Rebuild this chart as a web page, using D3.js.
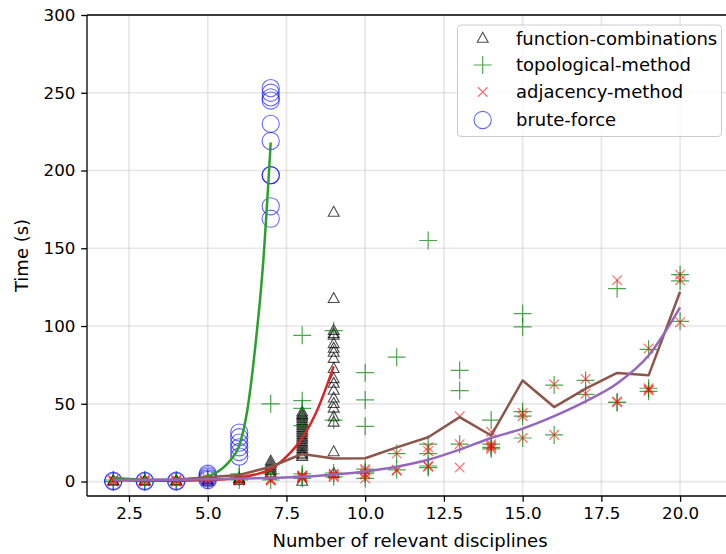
<!DOCTYPE html>
<html>
<head>
<meta charset="utf-8">
<script src="https://cdn.jsdelivr.net/npm/d3@7"></script>
<style>
  html, body { margin: 0; padding: 0; background: #ffffff; }
  svg { display: block; font-family: "DejaVu Sans", sans-serif; }
</style>
</head>
<body>
<svg id="chart" width="726" height="554"></svg>
<script>
// ---------------- data ----------------
const xTicks = [2.5, 5.0, 7.5, 10.0, 12.5, 15.0, 17.5, 20.0];
const yTicks = [0, 50, 100, 150, 200, 250, 300];
const seriesNames = ["function-combinations", "topological-method", "adjacency-method", "brute-force"];

// function-combinations (triangles): time values per number of disciplines
const funcCombX = [2, 3, 4, 5, 6, 7, 8, 9];
const funcCombY = [
  [0, 0.5], [0, 0.5], [0, 0.5], [0, 1], [0.5, 1.5, 2], [4, 5.5, 7, 8.5, 10, 11.5, 13],
  [44.5, 43, 42, 40.5, 39, 37.5, 36, 34.5, 33, 31.5, 30, 28.5, 27, 25.5, 24, 22.5, 21, 19.5, 18, 17, 16, 0],
  [173, 117.5, 97, 95, 94, 88.5, 85.5, 83, 79, 72.5, 66, 63, 58.5, 53.5, 50, 47, 41.5, 38, 19, 5]
];

// topological-method (plus)
const topoX = [2, 3, 4, 5, 6, 7, 8, 9, 10, 11, 12, 13, 14, 15, 16, 17, 18, 19, 20];
const topoY = [
  [0, 1], [0, 1], [0, 1], [1, 2], [1, 5, 3], [50, 5, 1],
  [94, 52, 47, 36, 5, 2, 3.5], [97, 39.5, 5.5, 3], [70, 52.5, 35.5, 8, 6, 5, 2],
  [80, 18, 7.5], [155, 24, 18, 10, 9], [71.5, 58.5, 24], [39.5, 24, 22, 21],
  [108, 99.5, 45, 42, 28], [62, 30], [65, 56], [124, 51, 51], [85, 60, 58], [133, 129, 103]
];

// adjacency-method (x)
const adjX = [2, 3, 4, 5, 6, 7, 8, 9, 10, 11, 12, 13, 14, 15, 16, 17, 18, 19, 20];
const adjY = [
  [0, 0.5, 1], [0, 0.5, 1], [0, 0.5, 1], [0, 1, 2], [0.5, 1, 1.5], [0.5, 1, 1.5],
  [2, 2.5, 3, 3.5, 4], [3, 3.5, 4.5, 5], [8, 7, 5, 4.5, 2], [18, 7.5, 7], [22, 19.5, 10, 9.5],
  [42, 24, 9], [32, 24, 23, 22, 21], [44, 42, 28], [62.5, 30], [66, 56.5], [129.5, 51, 51.5],
  [85.5, 60, 59, 58.5], [133, 129.5, 102.5]
];

// brute-force (circles)
const bruteX = [2, 3, 4, 5, 6, 7];
const bruteY = [
  [0, 0.5], [0, 0.5], [0, 0.5], [1, 2, 3, 4, 5],
  [31.5, 28.5, 25, 22, 19, 16],
  [253, 250, 247, 245, 230, 219, 197, 197, 177, 169]
];

// fitted / mean curves
const greenCurveX = [2, 2.5, 3, 3.5, 4, 4.5, 5, 5.25, 5.5, 5.75, 6, 6.25, 6.5, 6.75, 7];
const greenCurveY = [2.4, 1.6, 1.1, 1.0, 1.2, 1.8, 3.5, 5.5, 9, 14.5, 23, 45, 85, 138, 218];
const redCurveX = [2, 3, 4, 5, 6, 6.5, 7, 7.5, 8, 8.5, 9];
const redCurveY = [1, 0.5, 0.5, 1, 2.5, 4.5, 8, 16, 28, 47, 74];
const brownLineX = [2, 3, 4, 5, 6, 7, 8, 9, 10, 11, 12, 13, 14, 15, 16, 17, 18, 19, 20];
const brownLineY = [1, 1, 1.2, 2.7, 4.2, 9.5, 17.7, 14.8, 15, 22, 28.5, 41.4, 29.6, 65, 47.9, 59.7, 69.8, 68.3, 122];
const purpleCurveX = [2, 3, 4, 5, 6, 7, 8, 9, 10, 11, 12, 13, 14, 15, 16, 17, 18, 19, 20];
const purpleCurveY = [1, 1, 1.2, 1.4, 1.8, 2.3, 3, 4.5, 6.5, 9.5, 14, 20.5, 28, 34, 42, 51.5, 63, 81, 112];

// ---------------- drawing ----------------
const svg = d3.select("#chart");
const x = d3.scaleLinear().domain([1.166, 21.68]).range([87, 733]);
const y = d3.scaleLinear().domain([-9.3, 300]).range([496, 15]);

const tickFont = 16.7;
const labelFont = 18;

// grid
const grid = svg.append("g");
grid.selectAll("line.gx").data(xTicks).enter().append("line")
  .attr("x1", d => x(d)).attr("x2", d => x(d))
  .attr("y1", y.range()[0]).attr("y2", y.range()[1])
  .attr("stroke", "#b0b0b0").attr("stroke-opacity", 0.3).attr("stroke-width", 1.7);
grid.selectAll("line.gy").data(yTicks).enter().append("line")
  .attr("x1", x.range()[0]).attr("x2", x.range()[1])
  .attr("y1", d => y(d)).attr("y2", d => y(d))
  .attr("stroke", "#b0b0b0").attr("stroke-opacity", 0.3).attr("stroke-width", 1.7);

svg.append("defs").append("clipPath").attr("id", "plotclip")
  .append("rect").attr("x", 87).attr("y", 15).attr("width", 646).attr("height", 481);
const plot = svg.append("g").attr("clip-path", "url(#plotclip)");

const zip = (xs, ys) => xs.map((v, i) => [v, ys[i]]);
const flat = (xs, groups) => xs.flatMap((v, i) => groups[i].map(t => [v, t]));

// triangles
const triSize = 6.2;
const triPath = `M0,${-triSize} L${triSize * 0.88},${triSize * 0.6} L${-triSize * 0.88},${triSize * 0.6} Z`;
plot.append("g").selectAll("path").data(flat(funcCombX, funcCombY)).enter().append("path")
  .attr("d", triPath)
  .attr("transform", d => `translate(${x(d[0])},${y(d[1])})`)
  .attr("fill", "none").attr("stroke", "#000").attr("stroke-opacity", 0.7).attr("stroke-width", 1.1);

// pluses
const plusHalf = 9;
plot.append("g").selectAll("path").data(flat(topoX, topoY)).enter().append("path")
  .attr("d", `M${-plusHalf},0 H${plusHalf} M0,${-plusHalf} V${plusHalf}`)
  .attr("transform", d => `translate(${x(d[0])},${y(d[1])})`)
  .attr("fill", "none").attr("stroke", "#008000").attr("stroke-opacity", 0.7).attr("stroke-width", 1.2);

// x markers
const xHalf = 4.8;
plot.append("g").selectAll("path").data(flat(adjX, adjY)).enter().append("path")
  .attr("d", `M${-xHalf},${-xHalf} L${xHalf},${xHalf} M${-xHalf},${xHalf} L${xHalf},${-xHalf}`)
  .attr("transform", d => `translate(${x(d[0])},${y(d[1])})`)
  .attr("fill", "none").attr("stroke", "#ff0000").attr("stroke-opacity", 0.55).attr("stroke-width", 1.3);

// circles
plot.append("g").selectAll("circle").data(flat(bruteX, bruteY)).enter().append("circle")
  .attr("cx", d => x(d[0])).attr("cy", d => y(d[1])).attr("r", 8.6)
  .attr("fill", "none").attr("stroke", "#0000ff").attr("stroke-opacity", 0.6).attr("stroke-width", 1.1);

// curves
const lineGen = d3.line().x(d => x(d[0])).y(d => y(d[1]));
const smoothGen = d3.line().x(d => x(d[0])).y(d => y(d[1])).curve(d3.curveMonotoneX);
const curves = [
  { xs: greenCurveX, ys: greenCurveY, color: "#2ca02c", smooth: true },
  { xs: redCurveX, ys: redCurveY, color: "#d62728", smooth: true },
  { xs: brownLineX, ys: brownLineY, color: "#8c564b", smooth: false },
  { xs: purpleCurveX, ys: purpleCurveY, color: "#9467bd", smooth: true }
];
curves.forEach(c => {
  plot.append("path").datum(zip(c.xs, c.ys))
    .attr("d", c.smooth ? smoothGen : lineGen)
    .attr("fill", "none").attr("stroke", c.color).attr("stroke-width", 2.5)
    .attr("stroke-linejoin", "round").attr("stroke-linecap", "butt");
});

// axes
const xAxis = svg.append("g").attr("transform", `translate(0,496)`)
  .call(d3.axisBottom(x).tickValues(xTicks).tickFormat(d3.format(".1f")).tickSizeOuter(0).tickSize(5.8).tickPadding(5.8));
const yAxis = svg.append("g").attr("transform", `translate(87,0)`)
  .call(d3.axisLeft(y).tickValues(yTicks).tickFormat(d3.format("d")).tickSizeOuter(0).tickSize(5.8).tickPadding(5.8));
[xAxis, yAxis].forEach(a => {
  a.select(".domain").remove();
  a.selectAll("line").attr("stroke", "#000").attr("stroke-width", 1.3);
  a.selectAll("text").attr("font-size", tickFont).attr("fill", "#000")
    .attr("font-family", "DejaVu Sans, sans-serif");
});

// spines
const spines = svg.append("g").attr("stroke", "#000").attr("stroke-width", 1.3).attr("fill", "none");
spines.append("line").attr("x1", 87).attr("x2", 87).attr("y1", 15).attr("y2", 496);
spines.append("line").attr("x1", 87).attr("x2", 733).attr("y1", 496).attr("y2", 496);
spines.append("line").attr("x1", 87).attr("x2", 733).attr("y1", 15).attr("y2", 15);
spines.append("line").attr("x1", 733).attr("x2", 733).attr("y1", 15).attr("y2", 496);

// axis labels
svg.append("text").attr("x", 410).attr("y", 547).attr("text-anchor", "middle")
  .attr("font-size", labelFont).attr("fill", "#000").text("Number of relevant disciplines");
svg.append("text").attr("transform", "translate(28,255.5) rotate(-90)").attr("text-anchor", "middle")
  .attr("font-size", labelFont).attr("fill", "#000").text("Time (s)");

// legend
const legend = svg.append("g");
legend.append("rect").attr("x", 457.5).attr("y", 25).attr("width", 264).attr("height", 111.5)
  .attr("rx", 3.5).attr("fill", "#fff").attr("fill-opacity", 0.8)
  .attr("stroke", "#cccccc").attr("stroke-width", 1);
const rowsY = [38.5, 65, 92, 120];
const mx = 482.7;
legend.append("path").attr("d", triPath).attr("transform", `translate(${mx},${rowsY[0]})`)
  .attr("fill", "none").attr("stroke", "#000").attr("stroke-opacity", 0.7).attr("stroke-width", 1.1);
legend.append("path").attr("d", `M${-plusHalf},0 H${plusHalf} M0,${-plusHalf} V${plusHalf}`)
  .attr("transform", `translate(${mx},${rowsY[1]})`)
  .attr("fill", "none").attr("stroke", "#008000").attr("stroke-opacity", 0.7).attr("stroke-width", 1.2);
legend.append("path").attr("d", `M${-xHalf},${-xHalf} L${xHalf},${xHalf} M${-xHalf},${xHalf} L${xHalf},${-xHalf}`)
  .attr("transform", `translate(${mx},${rowsY[2]})`)
  .attr("fill", "none").attr("stroke", "#ff0000").attr("stroke-opacity", 0.55).attr("stroke-width", 1.3);
legend.append("circle").attr("cx", mx).attr("cy", rowsY[3]).attr("r", 8.6)
  .attr("fill", "none").attr("stroke", "#0000ff").attr("stroke-opacity", 0.6).attr("stroke-width", 1.1);
legend.selectAll("text.lt").data(seriesNames).enter().append("text")
  .attr("x", 516).attr("y", (d, i) => rowsY[i]).attr("dy", "0.35em")
  .attr("font-size", labelFont).attr("fill", "#000").text(d => d);
</script>
</body>
</html>
